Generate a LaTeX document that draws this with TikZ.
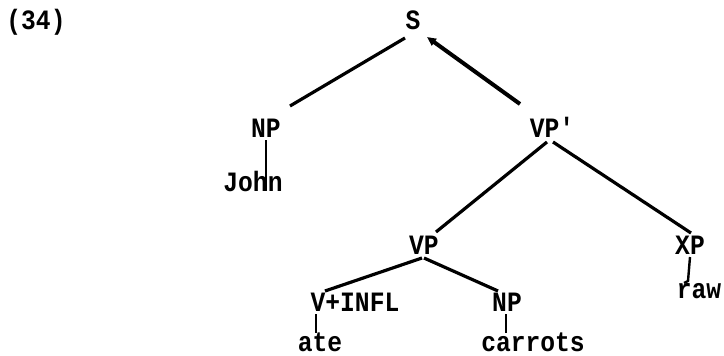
\documentclass[tikz,border=0pt]{standalone}
\usepackage{fontspec}
\setmonofont[FakeStretch=0.88]{Liberation Mono}
\usetikzlibrary{arrows.meta,calc}
\begin{document}
\begin{tikzpicture}[x=1pt,y=-1pt,
  lab/.style={font=\ttfamily\bfseries\fontsize{28}{28}\selectfont, inner sep=0pt, text height=16pt, text depth=0pt},
  edge/.style={line width=3.2pt},
  thick edge/.style={line width=4pt},
  thin edge/.style={line width=2.4pt}]
\useasboundingbox (0,0) rectangle (724,356);
\node[lab] (ex) at (36,22) {(34)};
\node[lab] (S) at (413,22) {S};
\node[lab] (NPa) at (266,129) {NP};
\node[lab] (VPp) at (552,129) {VP'};
\node[lab] (John) at (253,183) {John};
\node[lab] (VP) at (424,246) {VP};
\node[lab] (XP) at (690,246) {XP};
\node[lab] (raw) at (699,290) {raw};
\node[lab] (VI) at (355,303) {V+INFL};
\node[lab] (NPb) at (507,303) {NP};
\node[lab] (ate) at (320,343) {ate};
\node[lab] (car) at (533,343) {carrots};
\draw[edge] ($(S)+(-8,16)$) -- ($(NPa)+(24,-23)$);
\draw[thick edge,-{Triangle[length=9pt,width=8pt]}] ($(VPp)+(-32,-25)$) -- ($(S)+(14,15)$);
\draw[thin edge] ($(NPa)+(0,11)$) -- ($(John)+(13,8)$);
\draw[edge] ($(VPp)+(-5,13)$) -- ($(VP)+(12,-14)$);
\draw[edge] ($(VPp)+(1,13)$) -- ($(XP)+(1,-13)$);
\draw[thin edge] ($(XP)+(0,11)$) -- ($(raw)+(-11,-9)$) -- ($(raw)+(-15,-7)$);
\draw[edge] ($(VP)+(-2,12)$) -- ($(VI)+(-30,-12)$);
\draw[edge] ($(VP)+(0,12)$) -- ($(NPb)+(-9,-12)$);
\draw[thin edge] ($(VI)+(-39,11)$) -- ($(ate)+(-4,-10)$);
\draw[thin edge] ($(NPb)+(-1,11)$) -- ($(car)+(-27,-10)$);
\end{tikzpicture}
\end{document}
